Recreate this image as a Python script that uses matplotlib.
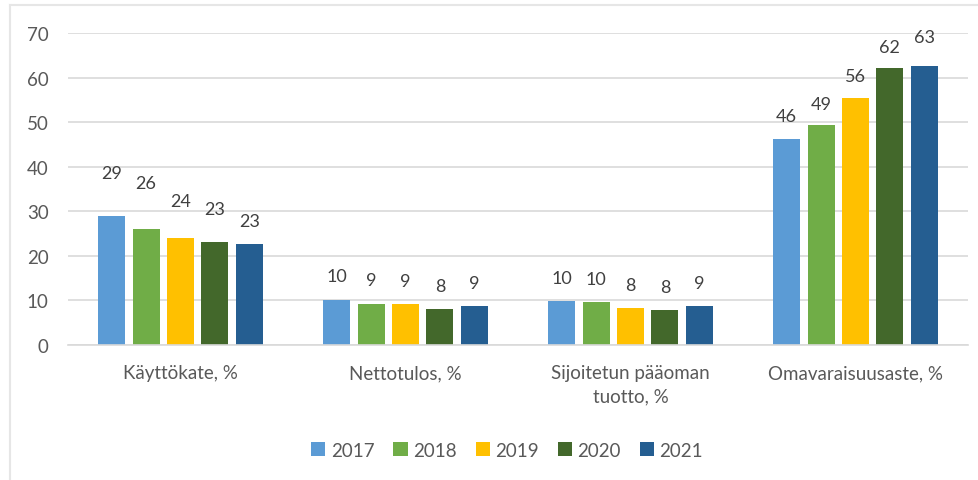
#!/usr/bin/env python3
"""
Grouped bar chart of key ratios 2017-2021
"""

import numpy as np
import matplotlib
matplotlib.use("Agg")
import matplotlib.pyplot as plt
from matplotlib.lines import Line2D

# data
categories = ["Käyttökate, %", "Nettotulos, %", "Sijoitetun pääoman\ntuotto, %", "Omavaraisuusaste, %"]
years = ["2017", "2018", "2019", "2020", "2021"]
v2017 = [29.0, 10.2, 9.8, 46.2]
v2018 = [26.0, 9.1, 9.7, 49.4]
v2019 = [24.0, 9.3, 8.4, 55.5]
v2020 = [23.0, 8.1, 7.9, 62.1]
v2021 = [22.7, 8.7, 8.8, 62.7]
labels2017 = ["29", "10", "10", "46"]
labels2018 = ["26", "9", "10", "49"]
labels2019 = ["24", "9", "8", "56"]
labels2020 = ["23", "8", "8", "62"]
labels2021 = ["23", "9", "9", "63"]
yticks = [0, 10, 20, 30, 40, 50, 60, 70]

series = [v2017, v2018, v2019, v2020, v2021]
labels = [labels2017, labels2018, labels2019, labels2020, labels2021]
colors = ["#5B9BD5", "#70AD47", "#FFC000", "#43682B", "#255E91"]

# how far (px) each data label sits above its bar, per year then category
lift_px = [
    [43, 24, 23, 23],
    [46, 24, 23, 21],
    [37, 23, 23, 22],
    [33, 23, 23, 21],
    [23, 23, 23, 29],
]

FONT = "Lato"
TXT = "#595959"
GRID = "#D9D9D9"

fig = plt.figure(figsize=(9.79, 4.81), dpi=100)
ax = fig.add_axes([68 / 979, 1 - 346 / 481, 900 / 979, 312 / 481])

x = np.arange(len(categories))
pitch = 0.153
width = 0.12
for i, (vals, col) in enumerate(zip(series, colors)):
    xs = x + (i - 2) * pitch
    ax.bar(xs, vals, width=width, color=col, zorder=3, label=years[i])
    for j, (xx, v) in enumerate(zip(xs, vals)):
        ax.annotate(labels[i][j], (xx, v), xytext=(0, lift_px[i][j] * 0.72),
                    textcoords="offset points", ha="center", va="center",
                    fontsize=13, color="#404040", family=FONT)

ax.set_xlim(-0.5, 3.5)
ax.set_ylim(0, 70)
ax.set_yticks(yticks)
ax.set_yticklabels([str(t) for t in yticks], fontsize=13.5, color=TXT, family=FONT)
ax.set_xticks(x)
ax.set_xticklabels(categories, fontsize=13.5, color=TXT, family=FONT, linespacing=1.45)
ax.tick_params(axis="y", length=0, pad=14)
ax.tick_params(axis="x", length=0, pad=14)
ax.yaxis.grid(True, color=GRID, lw=1.2, zorder=0)
for s in ["top", "right", "left"]:
    ax.spines[s].set_visible(False)
ax.spines["bottom"].set_color(GRID)
ax.spines["bottom"].set_linewidth(1.2)
ax.spines["bottom"].set_zorder(4)

leg = fig.legend(loc="center", bbox_to_anchor=(0.518, 0.062), ncol=5, frameon=False,
                 prop={"family": FONT, "size": 13.5}, handlelength=0.75, handleheight=0.75,
                 handletextpad=0.3, columnspacing=1.0)
for t in leg.get_texts():
    t.set_color(TXT)

# faint chart-area frame (only left and top edges show in the reference)
fig.add_artist(Line2D([10 / 979, 10 / 979], [0, 1 - 6 / 481], color="#E6E6E6", lw=1.5))
fig.add_artist(Line2D([10 / 979, 1], [1 - 6 / 481, 1 - 6 / 481], color="#E6E6E6", lw=1.5))

fig.savefig("out.png", dpi=100)
